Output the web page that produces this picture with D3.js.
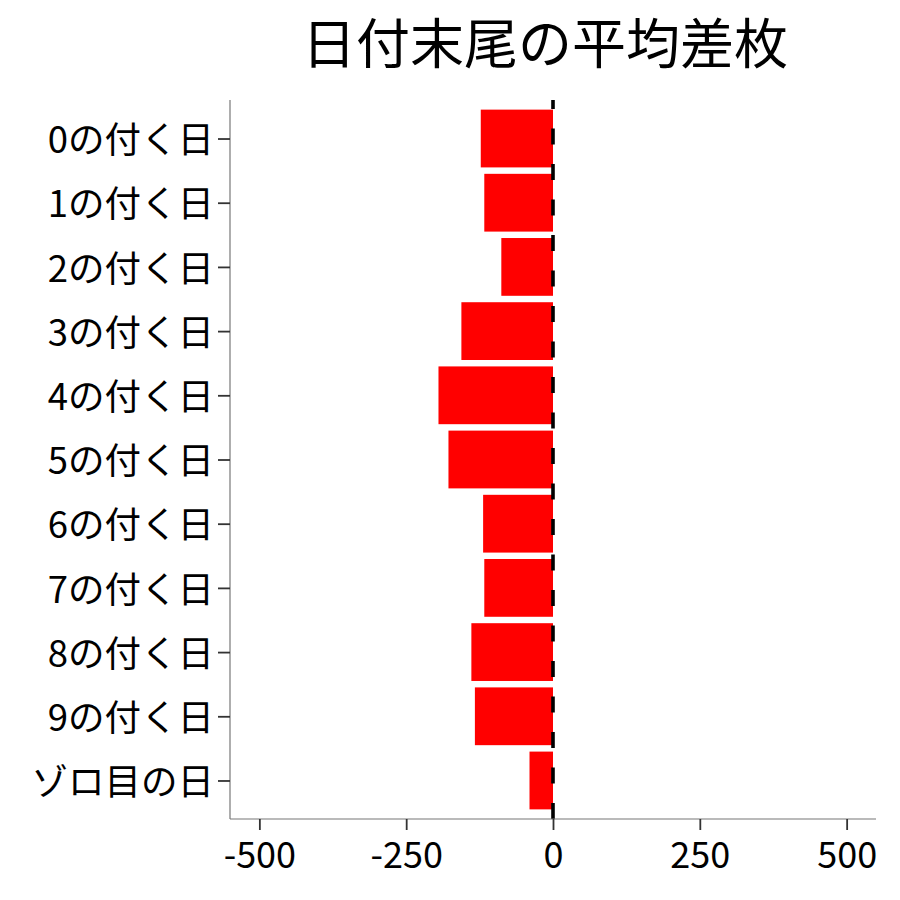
<!DOCTYPE html>
<html><head><meta charset="utf-8">
<script src="https://cdn.jsdelivr.net/npm/d3@7"></script>
<style>body{margin:0;background:#fff}svg{display:block}</style>
</head><body>
<script>
const categories = ["0の付く日","1の付く日","2の付く日","3の付く日","4の付く日","5の付く日","6の付く日","7の付く日","8の付く日","9の付く日","ゾロ目の日"];
const values = [-123, -117, -88, -156, -195, -178, -119, -117, -139, -133, -40];
const xTicks = [-500, -250, 0, 250, 500];
const title = "日付末尾の平均差枚";

(function(){
const W = 900, H = 900;
const pL = 230, pR = 876, pT = 100, pB = 819;
const font = "'Noto Sans CJK JP', 'Noto Sans', sans-serif";

const svg = d3.select("body").append("svg").attr("width", W).attr("height", H);

const x = d3.scaleLinear().domain([-550, 550]).range([pL, pR]);
const y = d3.scalePoint().domain(categories).range([pT, pB]).padding(0.6);
const barH = y.step() * 0.9;

// bars
svg.append("g").selectAll("rect").data(categories).join("rect")
  .attr("x", (d,i) => x(Math.min(0, values[i])))
  .attr("width", (d,i) => Math.abs(x(values[i]) - x(0)))
  .attr("y", d => y(d) - barH/2)
  .attr("height", barH)
  .attr("fill", "#ff0000");

// dashed zero line (drawn from bottom upward)
svg.append("line")
  .attr("x1", x(0)).attr("x2", x(0))
  .attr("y1", pB).attr("y2", pT)
  .attr("stroke", "#000").attr("stroke-width", 3.6)
  .attr("stroke-dasharray", "16,19.5");

// x axis
const xAxis = svg.append("g").attr("transform", `translate(0,${pB})`)
  .call(d3.axisBottom(x).tickValues(xTicks).tickSize(11).tickPadding(10).tickFormat(d => String(d)));
xAxis.select(".domain").attr("d", `M${pL},0H${pR}`).attr("stroke", "#777").attr("stroke-width", 1.2);
xAxis.selectAll(".tick line").attr("stroke", "#333").attr("stroke-width", 1.8);
xAxis.selectAll(".tick text").attr("font-family", font).attr("font-size", 36).attr("fill", "#000")
  .attr("dy", null).attr("y", 49);

// y axis
const yAxis = svg.append("g").attr("transform", `translate(${pL},0)`)
  .call(d3.axisLeft(y).tickSize(12).tickPadding(6));
yAxis.select(".domain").attr("d", `M0,${pT}V${pB}`).attr("stroke", "#777").attr("stroke-width", 1.2);
yAxis.selectAll(".tick line").attr("stroke", "#333").attr("stroke-width", 1.8);
yAxis.selectAll(".tick text").attr("font-family", font).attr("font-size", 36.5).attr("fill", "#000")
  .attr("dy", "0.36em").attr("x", -16).attr("y", 1);

// title
svg.append("text").attr("x", 545).attr("y", 64)
  .attr("text-anchor", "middle").attr("font-family", font)
  .attr("font-size", 54).attr("fill", "#000").text(title);
})();
</script>
</body></html>
